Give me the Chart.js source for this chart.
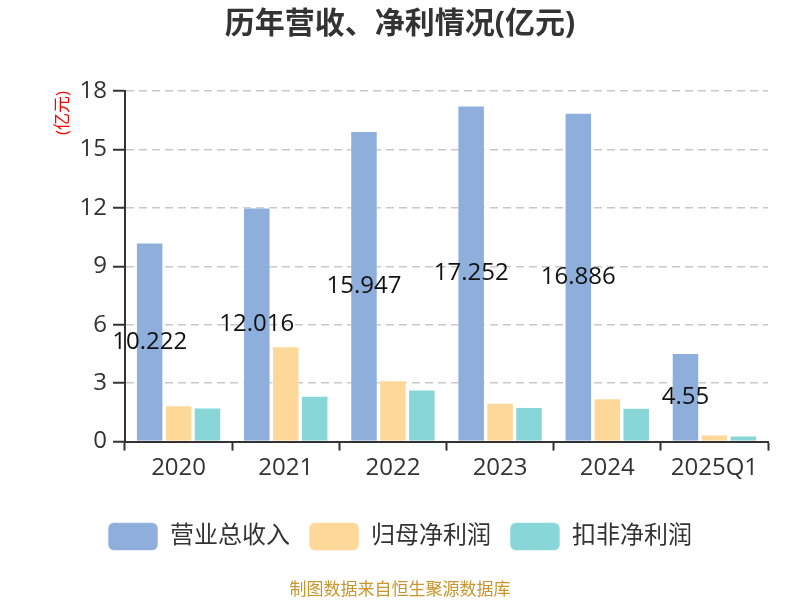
<!DOCTYPE html>
<html>
<head>
<meta charset="utf-8">
<script src="https://cdn.jsdelivr.net/npm/chart.js@4"></script>
<style>
  html, body { margin: 0; padding: 0; background: #fff; }
  #wrap { width: 800px; height: 600px; }
</style>
</head>
<body>
<div id="wrap"><canvas id="c" width="800" height="600"></canvas></div>
<script>
// chart data
const years = ["2020", "2021", "2022", "2023", "2024", "2025Q1"];
const revenue = [10.222, 12.016, 15.947, 17.252, 16.886, 4.55];
const netProfit = [1.86, 4.9, 3.15, 2.0, 2.22, 0.36];
const deductedProfit = [1.75, 2.36, 2.68, 1.77, 1.74, 0.31];
const yTicks = [0, 3, 6, 9, 12, 15, 18];

const FONT = '"Open Sans", "Noto Sans CJK SC", sans-serif';

// labels for the revenue bars, drawn in the middle of each bar
const barLabels = {
  id: "barLabels",
  afterDatasetsDraw(chart) {
    const ctx = chart.ctx;
    const meta = chart.getDatasetMeta(0);
    ctx.save();
    ctx.font = "24px " + FONT;
    ctx.fillStyle = "#111";
    ctx.textAlign = "center";
    ctx.textBaseline = "middle";
    meta.data.forEach((bar, i) => {
      ctx.fillText(String(revenue[i]), bar.x, (bar.y + bar.base) / 2);
    });
    ctx.restore();
  },
};

new Chart(document.getElementById("c"), {
  type: "bar",
  data: {
    labels: years,
    datasets: [
      { label: "营业总收入", data: revenue, backgroundColor: "#8eaedb" },
      { label: "归母净利润", data: netProfit, backgroundColor: "#fed898" },
      { label: "扣非净利润", data: deductedProfit, backgroundColor: "#88d6d8" },
    ],
  },
  options: {
    responsive: false,
    animation: false,
    devicePixelRatio: 1,
    layout: { padding: { left: 32, right: 32, top: 0, bottom: 0 } },
    datasets: {
      bar: {
        categoryPercentage: 0.81,
        barPercentage: 0.95,
        borderColor: "rgba(255,255,255,0.6)",
        borderWidth: 1,
      },
    },
    plugins: {
      title: {
        display: true,
        text: "历年营收、净利情况(亿元)",
        color: "#333",
        font: { family: FONT, size: 30, weight: "bold" },
        padding: { top: 6, bottom: 49 },
      },
      subtitle: {
        display: true,
        position: "bottom",
        text: "制图数据来自恒生聚源数据库",
        color: "#c8952e",
        font: { family: FONT, size: 17 },
        padding: { top: 19, bottom: 0 },
      },
      legend: {
        position: "bottom",
        labels: {
          color: "#333",
          font: { family: FONT, size: 24 },
          boxWidth: 50,
          boxHeight: 28,
          useBorderRadius: true,
          borderRadius: 6,
          padding: 19,
        },
      },
      tooltip: { enabled: false },
    },
    scales: {
      x: {
        grid: {
          display: true,
          drawOnChartArea: false,
          drawTicks: true,
          tickLength: 9,
          tickColor: "#333",
          tickWidth: 2,
          offset: true,
        },
        border: { color: "#333", width: 2 },
        ticks: {
          color: "#333",
          font: { family: FONT, size: 24 },
          padding: 3,
        },
        afterFit(scale) {
          scale.height = 62;
        },
      },
      y: {
        min: 0,
        max: 18,
        afterBuildTicks(scale) {
          scale.ticks = yTicks.map((v) => ({ value: v }));
        },
        grid: {
          color: "#c8c8c8",
          lineWidth: 1.5,
          drawTicks: true,
          tickLength: 12,
          tickColor: "#333",
          tickBorderDash: [],
          tickWidth: 2,
        },
        border: { color: "#333", width: 2, dash: [8, 5] },
        ticks: {
          color: "#333",
          font: { family: FONT, size: 24 },
          padding: 6,
        },
        title: {
          display: true,
          text: "(亿元)",
          align: "end",
          color: "#ff0000",
          font: { family: FONT, size: 17 },
          padding: { top: 21, bottom: 0 },
        },
        afterFit(scale) {
          scale.width = 93;
        },
      },
    },
  },
  plugins: [barLabels],
});
</script>
</body>
</html>
